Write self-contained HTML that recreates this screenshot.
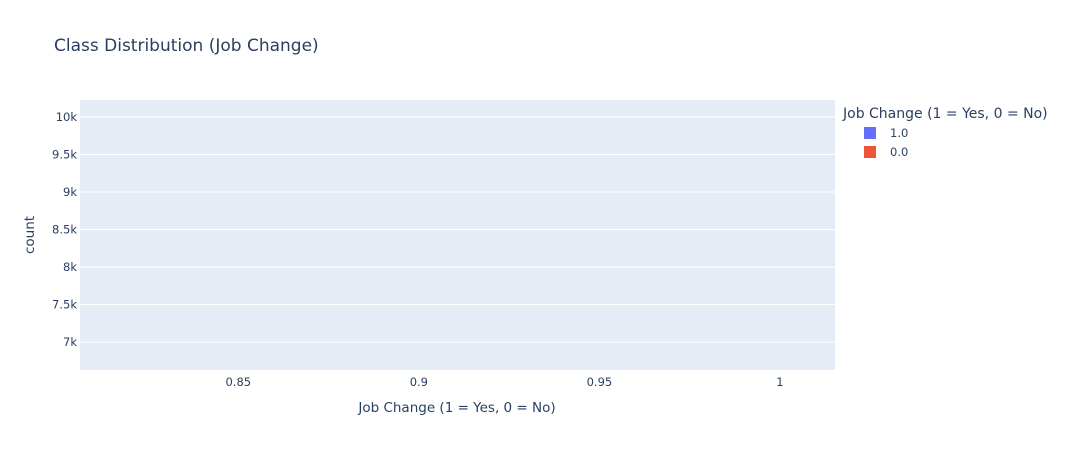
<!DOCTYPE html>
<html><head><meta charset="utf-8"><style>
html,body{margin:0;padding:0;background:#fff;width:1077px;height:450px;overflow:hidden;}
svg{display:block;font-family:"DejaVu Sans","Liberation Sans",sans-serif;}
</style></head><body>
<svg id="chart" width="1077" height="450">
<rect width="1077" height="450" fill="#fff"/>
<text x="54" y="51" font-size="17" fill="#2a3f5f">Class Distribution (Job Change)</text>
<defs><clipPath id="pc"><rect x="80" y="100" width="755" height="270"/></clipPath></defs>
<rect x="80" y="100" width="755" height="270" fill="#e5ecf6"/>
<g id="grid"></g>
<g id="bars" clip-path="url(#pc)"></g>
<g id="yticks"></g>
<g id="xticks"></g>
<text x="34" y="235" font-size="13.5" fill="#2a3f5f" text-anchor="middle" transform="rotate(-90 34 235)">count</text>
<text x="457" y="412" font-size="13.5" fill="#2a3f5f" text-anchor="middle">Job Change (1 = Yes, 0 = No)</text>
<g>
<text x="843" y="118" font-size="14" fill="#2a3f5f">Job Change (1 = Yes, 0 = No)</text>
<g><rect x="864" y="127" width="12" height="12" fill="#636efa"/><text x="890" y="137" font-size="11.5" fill="#2a3f5f">1.0</text></g>
<g><rect x="864" y="146" width="12" height="12" fill="#ef553b"/><text x="890" y="156" font-size="11.5" fill="#2a3f5f">0.0</text></g>
</g>
</svg>
<script>
const categories = [1.0, 0.0];
const counts = [4777, 14381];
const colors = ['#636efa', '#ef553b'];
const yTicks = [7000, 7500, 8000, 8500, 9000, 9500, 10000];
const yTickLabels = ['7k', '7.5k', '8k', '8.5k', '9k', '9.5k', '10k'];
const xTicks = [0.85, 0.9, 0.95, 1];
const xTickLabels = ['0.85', '0.9', '0.95', '1'];

const NS = 'http://www.w3.org/2000/svg';
const X0 = 80, X1 = 835, Y0 = 370, Y1 = 100;
const xMin = 0.80617, xMax = 1.01524, yMin = 6627, yMax = 10227;
const xs = v => X0 + (v - xMin) / (xMax - xMin) * (X1 - X0);
const ys = v => Y0 - (v - yMin) / (yMax - yMin) * (Y0 - Y1);
function mk(tag, attrs, parent) {
  const e = document.createElementNS(NS, tag);
  for (const k in attrs) e.setAttribute(k, attrs[k]);
  document.getElementById(parent).appendChild(e);
  return e;
}
yTicks.forEach((t, i) => {
  const g = mk('line', {x1: X0, x2: X1, y1: ys(t), y2: ys(t), stroke: '#fff', 'stroke-width': 1}, 'grid');
  
  
  const l = mk('text', {x: X0 - 3, y: ys(t) + 4, 'font-size': 11.5, fill: '#2a3f5f', 'text-anchor': 'end'}, 'yticks');
  l.textContent = yTickLabels[i];
  
  
});
xTicks.forEach((t, i) => {
  const l = mk('text', {x: xs(t), y: 386, 'font-size': 11.5, fill: '#2a3f5f', 'text-anchor': 'middle'}, 'xticks');
  l.textContent = xTickLabels[i];
  
  
});
categories.forEach((c, i) => {
  const w = xs(c + 0.4) - xs(c - 0.4);
  const top = ys(counts[i]);
  const r = mk('rect', {x: xs(c - 0.4), y: Math.min(top, ys(0)), width: w, height: Math.abs(ys(0) - top), fill: colors[i]}, 'bars');
  
  
});
</script>
</body></html>
